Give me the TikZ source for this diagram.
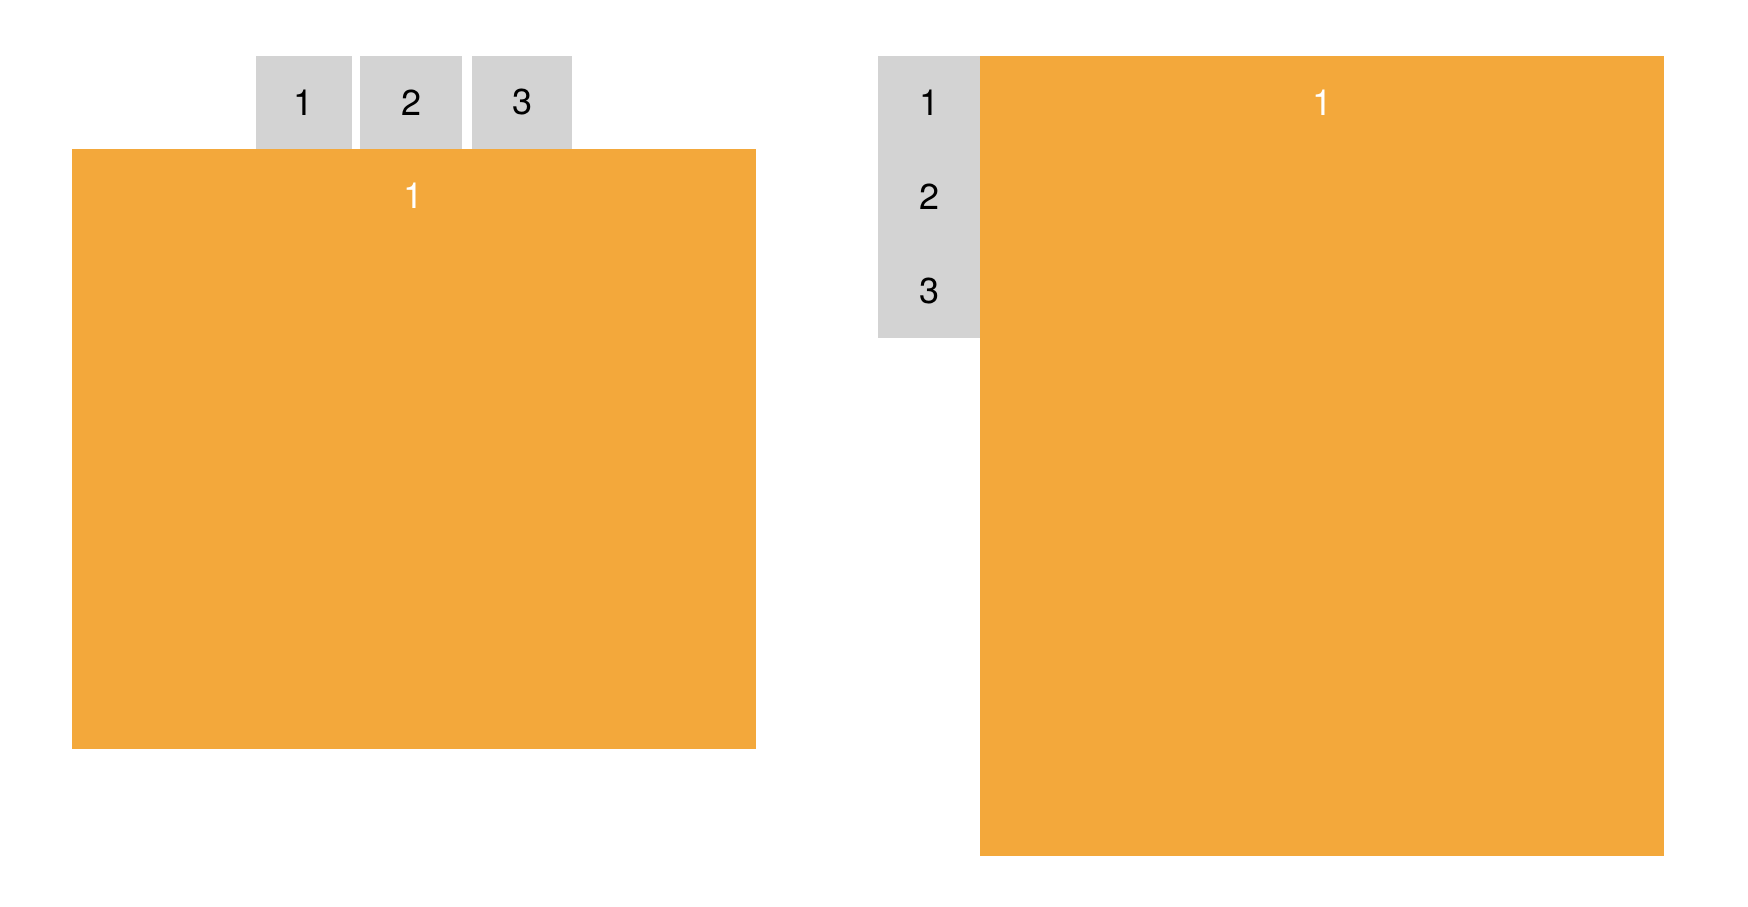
\documentclass[tikz,border=0pt]{standalone}
\usepackage{fontspec}
\setmainfont{TeX Gyre Heros}
\definecolor{boxorange}{HTML}{F3A83B}
\definecolor{cellgray}{HTML}{D3D3D3}

\begin{document}
\begin{tikzpicture}[x=.5pt,y=-.5pt,
    cell/.style={fill=cellgray},
    panel/.style={fill=boxorange},
    num/.style={inner sep=0pt,font=\fontsize{18}{20}\selectfont},
    numw/.style={num,text=white}]
  \useasboundingbox (0,0) rectangle (1748,906);
  % left: cells in a row above the panel
  \fill[panel] (71.5,149) rectangle (756,749);
  \node[numw] (lp) at (413.7,196) {1};
  \fill[cell] (256,56) rectangle (352,149);
  \fill[cell] (360,56) rectangle (462,149);
  \fill[cell] (472,56) rectangle (572,149);
  \node[num] (l1) at (304,102.5) {1};
  \node[num] (l2) at (411,102.5) {2};
  \node[num] (l3) at (522,102.5) {3};
  % right: cells in a column beside the panel
  \fill[panel] (980,56) rectangle (1664,856);
  \node[numw] (rp) at (1322,102.5) {1};
  \fill[cell] (878,56) rectangle (980,337.5);
  \node[num] (r1) at (929,102.5) {1};
  \node[num] (r2) at (929,196.5) {2};
  \node[num] (r3) at (929,290.5) {3};
\end{tikzpicture}
\end{document}
